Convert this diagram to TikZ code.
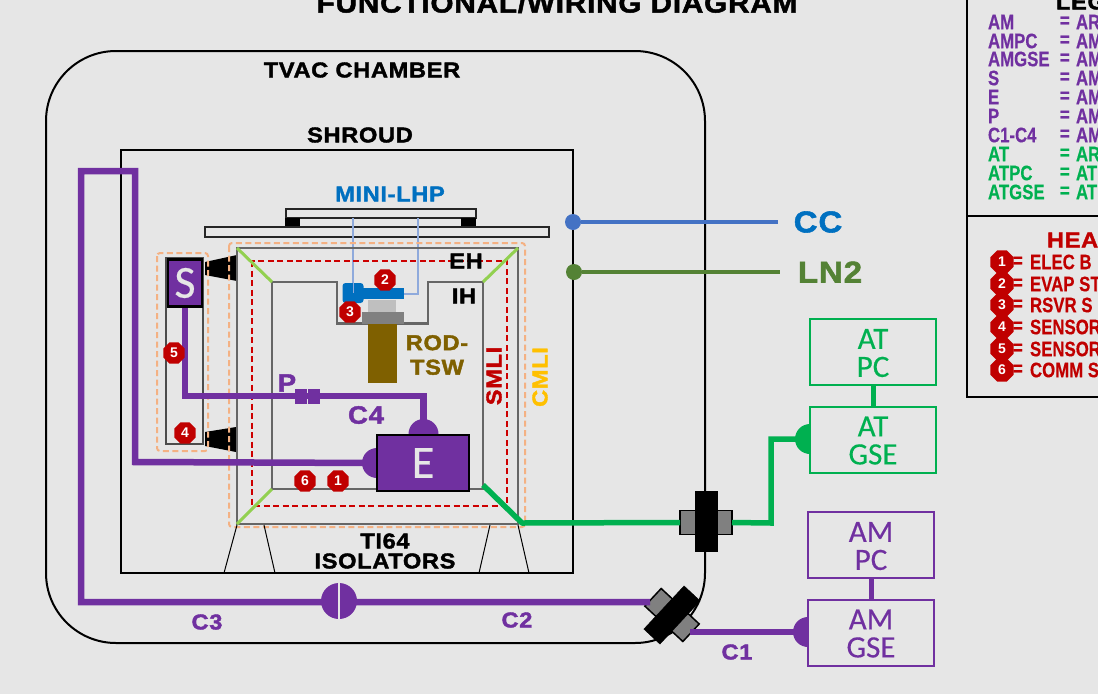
\documentclass[tikz,border=0pt]{standalone}
\usepackage{fontspec}
\usepackage{xcolor}
\usepackage{tikz}
\usetikzlibrary{shapes.geometric}
\setmainfont{Liberation Sans}
\newfontfamily\heavyfont[FakeStretch=1.1,FakeBold=1.8,LetterSpace=3]{Liberation Sans Bold}
\newfontfamily\narrowfont[FakeStretch=0.8,FakeBold=0.4]{Liberation Sans Bold}
\newfontfamily\softfont[FakeBold=0.4]{Carlito}
\newcommand\boxstrut{\rule{0pt}{22pt}}
\definecolor{Paper}{HTML}{E6E6E6}
\definecolor{AmPurple}{HTML}{7030A0}
\definecolor{AtGreen}{HTML}{00B050}
\definecolor{Heater}{HTML}{C00000}
\definecolor{LhpBlue}{HTML}{0070C0}
\definecolor{LoopBlue}{HTML}{8FAADC}
\definecolor{CcBlue}{HTML}{4472C4}
\definecolor{LnGreen}{HTML}{548235}
\definecolor{RodBrown}{HTML}{7F6000}
\definecolor{CmliOrange}{HTML}{F4B183}
\definecolor{CmliText}{HTML}{FFC000}
\definecolor{Corner}{HTML}{92D050}
\begin{document}
\begin{tikzpicture}[x=1pt,y=-1pt,every node/.style={inner sep=0pt,outer sep=0pt,align=center},
  label/.style={font=\heavyfont\fontsize{21.5}{21.5}\selectfont},
  legend/.style={anchor=west,font=\narrowfont\fontsize{21}{21}\selectfont},
  badge/.style={regular polygon,regular polygon sides=8,minimum size=23pt,fill=Heater,text=white,font=\bfseries\fontsize{14}{14}\selectfont},
  atbox/.style={draw=AtGreen,line width=2pt,fill=Paper,text=AtGreen,minimum width=126pt,minimum height=66pt,font=\softfont\fontsize{31}{28}\selectfont},
  ambox/.style={draw=AmPurple,line width=2pt,fill=Paper,text=AmPurple,minimum width=126pt,minimum height=66pt,font=\softfont\fontsize{31}{28}\selectfont},
  unitbox/.style={draw=black,line width=2.5pt,fill=AmPurple,text=Paper,font=\softfont\fontsize{46}{46}\selectfont},
  cable/.style={AmPurple,line width=6.5pt},
  plug/.style={circle,fill=AmPurple,minimum size=30pt},
  atplug/.style={circle,fill=AtGreen,minimum size=30pt},
  shell/.style={draw=black!60,line width=2.2pt},
  mlicmli/.style={draw=CmliOrange,line width=2pt,dash pattern=on 6pt off 3.5pt},
  mlismli/.style={draw=Heater!80!red,line width=2pt,dash pattern=on 6pt off 3.5pt},
  grayplate/.style={draw=black,line width=1.5pt,fill=black!50},
  blackplate/.style={draw=black,fill=black}]
\useasboundingbox (0,0) rectangle (1098,694);
\clip (0,0) rectangle (1098,694);
\fill[Paper] (0,0) rectangle (1098,694);
\node[label,font=\heavyfont\fontsize{27}{27}\selectfont] (title) at (557,3) {FUNCTIONAL/WIRING DIAGRAM};

\draw[line width=2pt,rounded corners=70pt] (46,51) rectangle (705,643);
\draw[line width=2pt] (121,150) rectangle (573,573);
\node[label] (tvac) at (362,70) {TVAC CHAMBER};
\node[label] (shroud) at (360,135) {SHROUD};

\node[draw=black!85,line width=1.5pt,fill=Paper,minimum width=344pt,minimum height=10pt] (plate) at (377,232) {};
\node[draw=black!85,line width=1.5pt,fill=Paper,minimum width=190pt,minimum height=9pt] (lhp) at (381,213.5) {};
\node[fill=black,minimum width=15pt,minimum height=8pt] (footl) at (292.5,222) {};
\node[fill=black,minimum width=15pt,minimum height=8pt] (footr) at (468.5,222) {};
\node[label,text=LhpBlue,font=\heavyfont\fontsize{21.5}{21.5}\selectfont] (lhptext) at (390,194) {MINI-LHP};

\coordinate (loopa) at (353,218);
\coordinate (loopb) at (418,218);
\coordinate (loopc) at (353,290);
\coordinate (loopd) at (418,294);
\coordinate (loope) at (404,294);
\draw[LoopBlue,line width=1.5pt] (loopa) -- (loopc);
\draw[LoopBlue,line width=1.5pt] (loopb) -- (loopd) -- (loope);

\fill[black] (205,262) -- (237,255) -- (237,281) -- (205,275) -- cycle;
\fill[black] (205,432) -- (236,427) -- (236,452) -- (205,446) -- cycle;

\draw[mlicmli,rounded corners=3pt] (229,243) rectangle (525,527);
\draw[mlicmli,rounded corners=3pt] (157,253) rectangle (208,451);
\draw[mlismli] (252,261) rectangle (507,506);
\draw[shell] (237,248) rectangle (518,524);
\draw[shell] (272,489) -- (272,282) -- (337,282) -- (337,323.5) -- (428,323.5) -- (428,282) -- (483,282) -- (483,489) -- cycle;
\draw[black!70,line width=1.5pt] (166,258) rectangle (203,444);

\foreach \xa/\ya/\xb/\yb in {224/573/237/525,275/573/264/525,479/573/490/525,529/573/518/525}
  \draw[black,line width=1pt] (\xa,\ya) -- (\xb,\yb);

\draw[Corner,line width=3pt] (237,248) -- (272,282);
\draw[Corner,line width=3pt] (518,248) -- (483,282);
\draw[Corner,line width=3pt] (237,524) -- (272,489);

\node[fill=black!25,minimum width=28pt,minimum height=12pt] (wick) at (382,306) {};
\node[fill=black!50,minimum width=42pt,minimum height=12pt] (base) at (383,318) {};
\node[fill=RodBrown,minimum width=29pt,minimum height=59pt] (rod) at (382.5,353.5) {};
\node[fill=LhpBlue,minimum width=41pt,minimum height=11pt] (evap) at (383.5,293.5) {};
\node[fill=LhpBlue,rounded corners=3pt,minimum width=21pt,minimum height=20pt] (rsvr) at (353,293) {};
\draw[LoopBlue,line width=1pt] (rsvr.north) -- (rsvr.center);

\node[label,text=RodBrown] (rodtext) at (437,355) {ROD-\\[3pt]TSW};
\node[label] (eh) at (466,261) {EH};
\node[label] (ih) at (464,296) {IH};
\node[label,text=Heater,rotate=90] (smli) at (494,376) {SMLI};
\node[label,text=CmliText,rotate=90] (cmli) at (540,377) {CMLI};
\node[label] (ti) at (385,541) {TI64};
\node[label] (isol) at (385,561) {ISOLATORS};

\node[plug,minimum size=36pt] (plugc) at (339,601) {};
\node[plug] (plugt) at (423.5,434) {};
\node[plug] (plugl) at (377,463) {};
\node[plug] (plugam) at (808,632) {};
\node[atplug,minimum size=30pt] (plugat) at (810,439) {};

\node[grayplate,minimum width=52pt,minimum height=24pt] (feedat) at (706,522.5) {};
\node[blackplate,minimum width=22pt,minimum height=60pt] (feedatb) at (706,521) {};
\node[grayplate,minimum width=52pt,minimum height=24pt,rotate=-43] (feedam) at (672,615) {};
\node[blackplate,minimum width=59pt,minimum height=22pt,rotate=47] (feedamb) at (672,615) {};

\coordinate (sbot) at (185,306);
\coordinate (sturn) at (185,396);
\coordinate (pturn) at (423.5,396);
\coordinate (ctop) at (135,462);
\coordinate (cup) at (135,171);
\coordinate (cleft) at (81,171);
\coordinate (cdown) at (81,602);
\coordinate (cdiag) at (650,602);
\coordinate (cright) at (690,632);
\draw[cable] (sbot) -- (sturn) -- (pturn) -- (plugt.center);
\draw[cable] (plugl.center) -- (ctop) -- (cup) -- (cleft) -- (cdown) -- (cdiag);
\draw[cable] (cright) -- (plugam.center);
\draw[Paper,line width=1.5pt] (plugc.north) -- (plugc.south);

\node[fill=AmPurple,minimum width=12pt,minimum height=15pt] (pa) at (301,396) {};
\node[fill=AmPurple,minimum width=12pt,minimum height=15pt] (pb) at (314,396) {};
\node[label,text=AmPurple,font=\heavyfont\fontsize{25}{25}\selectfont] (ptext) at (287,383) {P};
\node[label,text=AmPurple,font=\heavyfont\fontsize{25}{25}\selectfont] (cfour) at (366,415) {C4};
\node[label,text=AmPurple] (cthree) at (207,622) {C3};
\node[label,text=AmPurple] (ctwo) at (517,620) {C2};
\node[label,text=AmPurple] (cone) at (737,652) {C1};

\coordinate (gstart) at (483,485);
\coordinate (gdiag) at (522,523);
\coordinate (gturn) at (771,523);
\coordinate (gup) at (771,439);
\draw[AtGreen,line width=5.5pt,line join=round] (gstart) -- (gdiag) -- (feedat.west);
\draw[AtGreen,line width=5.5pt] (feedat.east) -- (gturn) -- (gup) -- (plugat.center);

\node[unitbox,minimum width=34pt,minimum height=47pt] (sunit) at (185,283) {S};
\node[unitbox,minimum width=92pt,minimum height=56pt] (eunit) at (423,463) {E};

\node[atbox] (atpc) at (873,352) {\boxstrut AT\\PC};
\node[atbox] (atgse) at (873,439.5) {\boxstrut AT\\GSE};
\node[ambox] (ampc) at (871,545) {\boxstrut AM\\PC};
\node[ambox] (amgse) at (871,632.5) {\boxstrut AM\\GSE};
\draw[AtGreen,line width=5pt] (atpc) -- (atgse);
\draw[AmPurple,line width=5pt] (ampc) -- (amgse);

\node[circle,fill=CcBlue,minimum size=16pt] (ccdot) at (573,222) {};
\node[circle,fill=LnGreen,minimum size=16pt] (lndot) at (574,272) {};
\node[label,text=LhpBlue,font=\heavyfont\fontsize{30}{30}\selectfont] (cc) at (818,222) {CC};
\node[label,text=LnGreen,font=\heavyfont\fontsize{30}{30}\selectfont] (lntwo) at (830,272) {LN2};
\draw[CcBlue,line width=4pt] (ccdot) -- (778,222);
\draw[LnGreen,line width=4pt] (lndot) -- (780,272);

\node[badge] (heatb) at (385,280) {2};
\node[badge] (heatc) at (350,312) {3};
\node[badge] (heate) at (174,353) {5};
\node[badge] (heatd) at (185,433) {4};
\node[badge] (heatf) at (305,481) {6};
\node[badge] (heata) at (338,481) {1};

\draw[black,line width=2.5pt] (967,-5) rectangle (1110,216);
\draw[black,line width=2.5pt] (967,216) rectangle (1110,397);
\node[label,anchor=west] (legtitle) at (1056,2) {LEG};
\foreach \yy/\name/\val/\col in {22/AM/AR/AmPurple,41/AMPC/AM/AmPurple,59/AMGSE/AM/AmPurple,78/S/AM/AmPurple,97/E/AM/AmPurple,116/P/AM/AmPurple,135/C1-C4/AM/AmPurple,154/AT/AR/AtGreen,173/ATPC/AT/AtGreen,192/ATGSE/AT/AtGreen}{
  \node[legend,text=\col] (leg\yy) at (988,\yy) {\name};
  \node[legend,text=\col] (eq\yy) at (1060,\yy) {=};
  \node[legend,text=\col] (val\yy) at (1076,\yy) {\val};
}
\node[label,anchor=west,text=Heater] (heatitle) at (1047,240) {HEA};
\foreach \yy/\num/\val in {262/1/ELEC B,284/2/EVAP ST,305/3/RSVR S,327/4/SENSOR,349/5/SENSOR,370/6/COMM S}{
  \node[badge,minimum size=25pt] (leg\num) at (1002,\yy) {\num};
  \node[legend,text=Heater] (eqh\num) at (1013,\yy) {=};
  \node[legend,text=Heater] (valh\num) at (1030,\yy) {\val};
}
\end{tikzpicture}
\end{document}
